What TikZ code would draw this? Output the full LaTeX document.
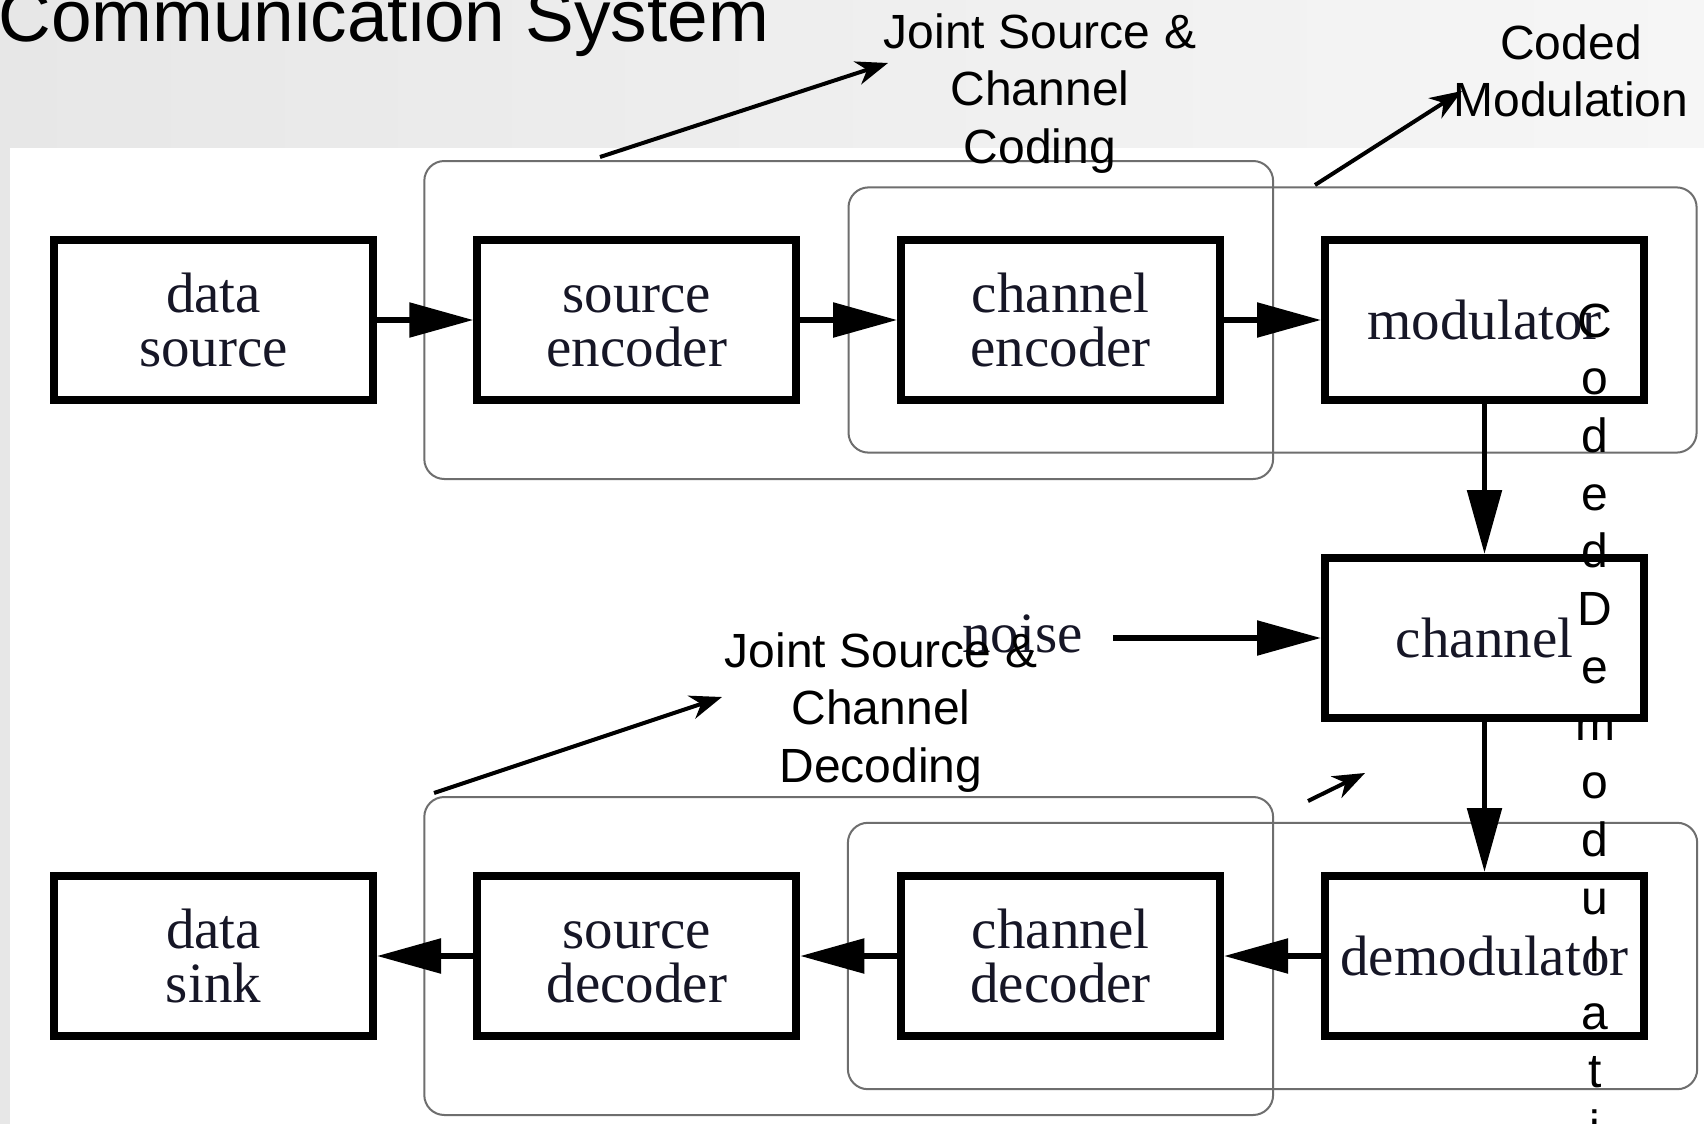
\documentclass[tikz,border=0pt]{standalone}
\usepackage{fontspec}
\setmainfont{Liberation Serif}
\newfontfamily\labelsans{Liberation Sans}
\usetikzlibrary{arrows.meta,fit}
\pgfdeclarelayer{slide}
\pgfdeclarelayer{clusters}
\pgfsetlayers{slide,clusters,main}
\definecolor{inkblue}{RGB}{22,22,38}
\definecolor{clusterline}{RGB}{110,110,110}
\definecolor{slideL}{RGB}{231,231,231}
\definecolor{slideR}{RGB}{246,246,246}
\begin{document}
\begin{tikzpicture}[x=0.5pt,y=-0.5pt,
  block/.style={draw, line width=4pt, minimum width=159.5pt, minimum height=80pt,
    inner sep=0pt, align=center, text=inkblue,
    font=\fontsize{28.5}{27}\selectfont},
  flow/.style={line width=2.75pt, -{Triangle[length=32pt,width=17pt]}},
  cluster/.style={draw=clusterline, line width=1pt, rounded corners=10pt},
  note/.style={align=center, inner sep=0pt,
    font=\labelsans\fontsize{24}{28.85}\selectfont},
  pointer/.style={line width=2pt, -{Stealth[length=16pt,width=12pt,inset=5pt]}}
]
\useasboundingbox (0,0) rectangle (1704,1124);
\clip (0,0) rectangle (1704,1124);

% slide background and white drawing panel
\begin{pgfonlayer}{slide}
  \shade[left color=slideL, right color=slideR] (0,0) rectangle (1704,1124);
  \fill[white] (10,148) rectangle (1704,1124);
\end{pgfonlayer}

% slide title
\node[anchor=base west, inner sep=0pt, font=\labelsans\fontsize{36.5}{44}\selectfont]
  (title) at (-2,41) {Communication System};

% transmitter chain
\node[block] (dsrc)  at (213.5,320)  {data\\source};
\node[block] (senc)  at (636.8,320)  {\vphantom{d}source\\encoder};
\node[block] (cenc)  at (1060.6,320) {channel\\encoder};
\node[block] (mod)   at (1484.5,320) {modulator};
% channel with additive noise
\node[block] (chan)  at (1484.5,638) {channel};
\node[anchor=base, inner sep=0pt, text=inkblue, font=\fontsize{28.5}{27}\selectfont]
  (noise) at (1022.5,652) {noise};
% receiver chain
\node[block] (demod) at (1484.5,956) {demodulator};
\node[block] (cdec)  at (1060.6,956) {channel\\decoder};
\node[block] (sdec)  at (636.8,956)  {\vphantom{d}source\\decoder};
\node[block] (sink)  at (213.5,956)  {data\\sink};

\draw[flow] (dsrc) -- (senc);
\draw[flow] (senc) -- (cenc);
\draw[flow] (cenc) -- (mod);
\draw[flow] (mod) -- (chan);
\draw[flow, shorten <=15pt] (noise.east |- chan.west) -- (chan.west);
\draw[flow] (chan) -- (demod);
\draw[flow] (demod) -- (cdec);
\draw[flow] (cdec) -- (sdec);
\draw[flow] (sdec) -- (sink);

% grouping frames
\begin{pgfonlayer}{clusters}
  \node[cluster, fit=(senc)(cenc), inner xsep=24.5pt, inner ysep=37.5pt] (jscc) {};
  \node[cluster, fit=(cenc)(mod), inner sep=24.3pt] (cmod) {};
  \node[cluster, fit=(sdec)(cdec), inner xsep=24.5pt, inner ysep=37.5pt] (jscd) {};
  \node[cluster, fit=(cdec)(demod), inner sep=24.6pt] (cdemod) {};
\end{pgfonlayer}

% annotations (base anchor sits on the last line)
\node[note, anchor=base] (jsccnote) at (1040,163.4) {Joint Source \&\\Channel\\Coding};
\node[note, anchor=base] (cmodnote) at (1571,116.7) {Coded\\Modulation};
\node[note, anchor=base] (jscdnote) at (881,782.4) {Joint Source \&\\Channel\\Decoding};
\node[note, anchor=base] (cdemodnote) at (1595,1260.2)
  {C\\o\\d\\e\\d\\D\\e\\m\\o\\d\\u\\l\\a\\t\\i\\o\\n};

% pointers from the frames to their captions
\coordinate (p1s) at (600,157);  \coordinate (p1e) at (888,63);
\coordinate (p2s) at (1315,185); \coordinate (p2e) at (1462,91);
\coordinate (p3s) at (434,793);  \coordinate (p3e) at (722,697);
\coordinate (p4s) at (1308,801); \coordinate (p4e) at (1365,773);
\draw[pointer] (p1s) -- (p1e);
\draw[pointer] (p2s) -- (p2e);
\draw[pointer] (p3s) -- (p3e);
\draw[pointer] (p4s) -- (p4e);
\end{tikzpicture}
\end{document}
